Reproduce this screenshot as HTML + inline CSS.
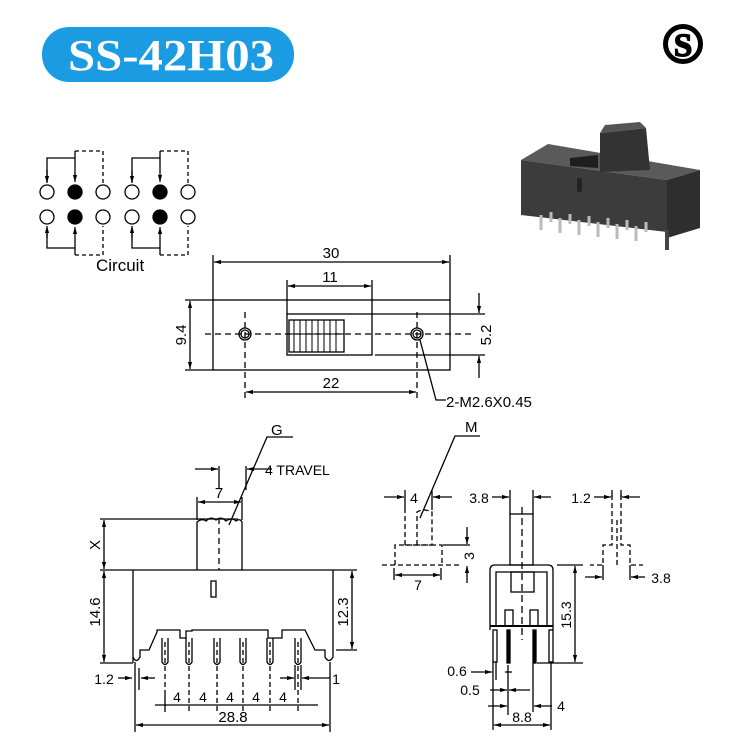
<!DOCTYPE html>
<html><head><meta charset="utf-8"><style>
html,body{margin:0;padding:0;background:#fff;}
svg{display:block;font-family:"Liberation Sans",sans-serif;}
</style></head><body>
<svg width="735" height="744" viewBox="0 0 735 744" xmlns="http://www.w3.org/2000/svg">
<defs>
<marker id="a" viewBox="0 0 10 10" refX="10" refY="5" markerWidth="7" markerHeight="7" orient="auto-start-reverse" markerUnits="userSpaceOnUse"><path d="M0,2 L10,5 L0,8 z" fill="#000"/></marker>
</defs>
<rect width="735" height="744" fill="#fff"/>
<!-- title pill -->
<rect x="42" y="27" width="252" height="55" rx="27" fill="#1a9be2"/>
<text x="68" y="70" textLength="206" lengthAdjust="spacingAndGlyphs" font-family="Liberation Serif,serif" font-weight="bold" font-size="44" fill="#fff">SS-42H03</text>
<!-- S logo -->
<circle cx="683" cy="44" r="17.5" fill="none" stroke="#000" stroke-width="5"/>
<text x="683" y="56" text-anchor="middle" font-family="Liberation Serif,serif" font-weight="bold" font-size="33" stroke="#000" stroke-width="1.5">S</text>

<!-- 3D product -->
<g>
<polygon points="521,160 548,144 700,170 667,180" fill="#5a5a5a"/>
<polygon points="521,160 667,180 667,232 521,215" fill="#3c3c3c"/>
<polygon points="667,180 700,170 700,228 667,238" fill="#2e2e2e"/>
<polygon points="570,158 598,155 598,168 570,166" fill="#1e1e1e"/>
<polygon points="600,133 646,128 650,170 600,172" fill="#333"/>
<polygon points="600,133 605,125 640,122 646,128" fill="#555"/>
<rect x="577" y="178" width="5" height="14" rx="2" fill="#222"/>
<g stroke="#bbb" stroke-width="3">
<line x1="541" y1="215" x2="541" y2="230"/><line x1="560" y1="218" x2="560" y2="233"/><line x1="579" y1="220" x2="579" y2="235"/><line x1="598" y1="222" x2="598" y2="237"/><line x1="617" y1="224" x2="617" y2="239"/><line x1="636" y1="226" x2="636" y2="241"/>
<line x1="551" y1="212" x2="551" y2="222"/><line x1="570" y1="214" x2="570" y2="224"/><line x1="589" y1="216" x2="589" y2="226"/><line x1="608" y1="218" x2="608" y2="228"/><line x1="627" y1="220" x2="627" y2="230"/><line x1="646" y1="222" x2="646" y2="232"/>
</g>
<rect x="665" y="230" width="4" height="20" fill="#444"/>
</g>

<g fill="none" stroke="#000" stroke-width="1.3">
<!-- circuit -->
<g>
<circle cx="47" cy="192" r="7"/><circle cx="75" cy="192" r="7" fill="#000"/><circle cx="103" cy="192" r="7"/>
<circle cx="132" cy="192" r="7"/><circle cx="160" cy="192" r="7" fill="#000"/><circle cx="188" cy="192" r="7"/>
<circle cx="47" cy="217" r="7"/><circle cx="75" cy="217" r="7" fill="#000"/><circle cx="103" cy="217" r="7"/>
<circle cx="132" cy="217" r="7"/><circle cx="160" cy="217" r="7" fill="#000"/><circle cx="188" cy="217" r="7"/>
<path d="M47,182 V158 H75"/><path d="M75,151 V182" marker-end="url(#a)"/><line x1="47" y1="170" x2="47" y2="183" marker-end="url(#a)"/>
<path d="M75,151 H103 V183" stroke-dasharray="4,3"/>
<path d="M132,182 V158 H160"/><path d="M160,151 V182" marker-end="url(#a)"/><line x1="132" y1="170" x2="132" y2="183" marker-end="url(#a)"/>
<path d="M160,151 H188 V183" stroke-dasharray="4,3"/>
<path d="M47,230 V248 H75"/><path d="M75,255 V227" marker-end="url(#a)"/><line x1="47" y1="238" x2="47" y2="226" marker-end="url(#a)"/>
<path d="M75,255 H103 V226" stroke-dasharray="4,3"/>
<path d="M132,230 V248 H160"/><path d="M160,255 V227" marker-end="url(#a)"/><line x1="132" y1="238" x2="132" y2="226" marker-end="url(#a)"/>
<path d="M160,255 H188 V226" stroke-dasharray="4,3"/>
</g>

<!-- top view -->
<rect x="213" y="300" width="237" height="70"/>
<rect x="287" y="314" width="85" height="41"/>
<rect x="289" y="320" width="55" height="32"/>
<g stroke-width="1"><line x1="294" y1="320" x2="294" y2="352"/><line x1="300" y1="320" x2="300" y2="352"/><line x1="306" y1="320" x2="306" y2="352"/><line x1="312" y1="320" x2="312" y2="352"/><line x1="318" y1="320" x2="318" y2="352"/><line x1="324" y1="320" x2="324" y2="352"/><line x1="330" y1="320" x2="330" y2="352"/><line x1="336" y1="320" x2="336" y2="352"/><line x1="289" y1="334" x2="344" y2="334"/></g>
<circle cx="245" cy="334" r="6"/><circle cx="245" cy="334" r="4"/>
<circle cx="417" cy="334" r="6"/><circle cx="417" cy="334" r="4"/>
<line x1="205" y1="334" x2="475" y2="334" stroke-dasharray="6,4"/>
<line x1="245" y1="312" x2="245" y2="398" stroke-dasharray="6,4"/>
<line x1="417" y1="312" x2="417" y2="398" stroke-dasharray="6,4"/>
<line x1="213" y1="255" x2="213" y2="300"/><line x1="450" y1="255" x2="450" y2="300"/>
<line x1="214" y1="262" x2="449" y2="262" marker-start="url(#a)" marker-end="url(#a)"/>
<line x1="287" y1="280" x2="287" y2="314"/><line x1="372" y1="280" x2="372" y2="314"/>
<line x1="288" y1="286" x2="371" y2="286" marker-start="url(#a)" marker-end="url(#a)"/>
<line x1="246" y1="392" x2="416" y2="392" marker-start="url(#a)" marker-end="url(#a)"/>
<line x1="185" y1="300" x2="213" y2="300"/><line x1="185" y1="370" x2="213" y2="370"/>
<line x1="190" y1="301" x2="190" y2="369" marker-start="url(#a)" marker-end="url(#a)"/>
<line x1="372" y1="314" x2="485" y2="314"/><line x1="375" y1="355" x2="485" y2="355"/>
<line x1="479" y1="293" x2="479" y2="313" marker-end="url(#a)"/>
<line x1="479" y1="378" x2="479" y2="356" marker-end="url(#a)"/>
<path d="M420,340 L436,400 H446"/>

<!-- side view -->
<line x1="100" y1="570" x2="357" y2="570"/>
<path d="M197,570 V522 Q202,518 206,521 Q211,516 216,520 Q221,516 226,521 Q232,517 236,521 Q240,518 242,522 V570"/>
<line x1="219" y1="518" x2="219" y2="570" stroke-dasharray="6,4"/>
<rect x="211" y="581" width="5" height="16"/>
<path d="M133,570 V657 Q136,664 140,657 V650 H149 L157,632 V630 H180 V638 H186 V631 H192 V630 H268 V638 H282 V630 H305 L315,650 H325 V657 Q329,664 333,657 V570"/>
<line x1="133" y1="657" x2="133" y2="663"/>
<g>
<path d="M162,638 V662 Q165,667 168,662 V638"/><line x1="165" y1="642" x2="165" y2="690" stroke-dasharray="5,3"/>
<path d="M186,638 V662 Q189,667 192,662 V638"/><line x1="189" y1="642" x2="189" y2="712" stroke-dasharray="5,3"/>
<path d="M214,638 V662 Q217,667 220,662 V638"/><line x1="217" y1="642" x2="217" y2="712" stroke-dasharray="5,3"/>
<path d="M240,638 V662 Q243,667 246,662 V638"/><line x1="243" y1="642" x2="243" y2="712" stroke-dasharray="5,3"/>
<path d="M267,638 V662 Q270,667 273,662 V638"/><line x1="270" y1="642" x2="270" y2="712" stroke-dasharray="5,3"/>
<path d="M295,638 V662 Q298,667 301,662 V638"/><line x1="298" y1="642" x2="298" y2="712" stroke-dasharray="5,3"/>
</g>
<line x1="165" y1="690" x2="165" y2="712"/>
<line x1="155" y1="705" x2="318" y2="705"/>
<line x1="135" y1="662" x2="135" y2="732"/><line x1="330" y1="662" x2="330" y2="732"/>
<line x1="136" y1="725" x2="329" y2="725" marker-start="url(#a)" marker-end="url(#a)"/>
<line x1="139" y1="668" x2="139" y2="690"/>
<line x1="118" y1="678" x2="132" y2="678" marker-end="url(#a)"/><line x1="155" y1="678" x2="141" y2="678" marker-end="url(#a)"/>
<line x1="295" y1="665" x2="295" y2="690"/><line x1="301" y1="665" x2="301" y2="690"/>
<line x1="280" y1="678" x2="294" y2="678" marker-end="url(#a)"/><line x1="330" y1="678" x2="302" y2="678" marker-end="url(#a)"/>
<line x1="100" y1="663" x2="133" y2="663"/><line x1="100" y1="519" x2="238" y2="519"/>
<line x1="104" y1="571" x2="104" y2="662" marker-start="url(#a)" marker-end="url(#a)"/>
<line x1="104" y1="520" x2="104" y2="569" marker-start="url(#a)" marker-end="url(#a)"/>
<line x1="336" y1="650" x2="357" y2="650"/>
<line x1="352" y1="571" x2="352" y2="649" marker-start="url(#a)" marker-end="url(#a)"/>
<line x1="197" y1="497" x2="197" y2="520"/><line x1="242" y1="497" x2="242" y2="520"/>
<line x1="198" y1="502" x2="241" y2="502" marker-start="url(#a)" marker-end="url(#a)"/>
<line x1="219" y1="466" x2="219" y2="488"/><line x1="246" y1="466" x2="246" y2="490"/>
<line x1="195" y1="469" x2="218" y2="469" marker-end="url(#a)"/><line x1="272" y1="469" x2="247" y2="469" marker-end="url(#a)"/>
<path d="M229,525 L267,437 H293"/>

<!-- right view -->
<rect x="510" y="514" width="23" height="51"/>
<path d="M490,630 V570 Q490,565 495,565 H548 Q553,565 553,570 V630"/>
<path d="M496,626 V572 H547 V626"/>
<line x1="490" y1="626" x2="553" y2="626" stroke-width="2"/>
<rect x="511" y="572" width="23" height="20"/>
<rect x="505" y="610" width="8" height="16"/><rect x="530" y="610" width="8" height="16"/>
<rect x="493" y="630" width="4" height="32"/><rect x="549" y="630" width="4" height="32"/>
<rect x="507" y="630" width="3" height="33" fill="#000"/><rect x="533" y="630" width="3" height="33" fill="#000"/>
<line x1="522" y1="507" x2="522" y2="640" stroke-dasharray="7,4"/>
<line x1="510" y1="490" x2="510" y2="514"/><line x1="533" y1="490" x2="533" y2="514"/>
<line x1="492" y1="497" x2="509" y2="497" marker-end="url(#a)"/><line x1="551" y1="497" x2="534" y2="497" marker-end="url(#a)"/>
<line x1="557" y1="565" x2="583" y2="565"/><line x1="537" y1="663" x2="583" y2="663"/>
<line x1="575" y1="566" x2="575" y2="662" marker-start="url(#a)" marker-end="url(#a)"/>
<line x1="493" y1="662" x2="493" y2="730"/><line x1="551" y1="662" x2="551" y2="730"/>
<line x1="494" y1="725" x2="550" y2="725" marker-start="url(#a)" marker-end="url(#a)"/>
<line x1="496" y1="662" x2="496" y2="680"/>
<line x1="471" y1="672" x2="492" y2="672" marker-end="url(#a)"/>
<line x1="505" y1="672" x2="512" y2="672"/>
<line x1="508" y1="665" x2="508" y2="715"/>
<line x1="490" y1="690" x2="507" y2="690" marker-end="url(#a)"/><line x1="530" y1="690" x2="509" y2="690" marker-end="url(#a)"/>
<line x1="533" y1="663" x2="533" y2="712"/>
<line x1="488" y1="706" x2="507" y2="706" marker-end="url(#a)"/><line x1="552" y1="706" x2="534" y2="706" marker-end="url(#a)"/>
<!-- left dashed -->
<g stroke-dasharray="5,3">
<path d="M405,545 V510 M417,545 V512 Q423,508 432,512 V545 H405"/>
<path d="M395,565 V545 H442 V565"/>
<line x1="382" y1="565" x2="460" y2="565"/>
</g>
<line x1="405" y1="490" x2="405" y2="510"/><line x1="432" y1="490" x2="432" y2="510"/>
<line x1="384" y1="497" x2="404" y2="497" marker-end="url(#a)"/><line x1="452" y1="497" x2="433" y2="497" marker-end="url(#a)"/>
<line x1="394" y1="568" x2="394" y2="580"/><line x1="441" y1="568" x2="441" y2="580"/>
<line x1="395" y1="575" x2="440" y2="575" marker-start="url(#a)" marker-end="url(#a)"/>
<line x1="443" y1="545" x2="470" y2="545"/>
<line x1="467" y1="527" x2="467" y2="544" marker-end="url(#a)"/><line x1="467" y1="583" x2="467" y2="566" marker-end="url(#a)"/>
<path d="M420,518 L455,436 H480"/>
<!-- right dashed -->
<g stroke-dasharray="5,3">
<path d="M612,495 V545 H603 V565 H590"/>
<path d="M621,495 V545 H630 V565 H643"/>
<line x1="617" y1="520" x2="617" y2="565"/>
</g>
<line x1="612" y1="490" x2="612" y2="497"/><line x1="621" y1="490" x2="621" y2="497"/>
<line x1="594" y1="497" x2="611" y2="497" marker-end="url(#a)"/><line x1="640" y1="497" x2="622" y2="497" marker-end="url(#a)"/>
<line x1="603" y1="565" x2="603" y2="580"/><line x1="630" y1="565" x2="630" y2="580"/>
<line x1="585" y1="577" x2="602" y2="577" marker-end="url(#a)"/><line x1="645" y1="577" x2="631" y2="577" marker-end="url(#a)"/>
</g>

<!-- texts -->
<g font-size="15" fill="#000">
<text x="96" y="271" font-size="17">Circuit</text>
<text x="331" y="258" text-anchor="middle">30</text>
<text x="330" y="282" text-anchor="middle">11</text>
<text x="331" y="388" text-anchor="middle">22</text>
<text x="0" y="0" transform="translate(186,335) rotate(-90)" text-anchor="middle">9.4</text>
<text x="0" y="0" transform="translate(491,335) rotate(-90)" text-anchor="middle">5.2</text>
<text x="446" y="407">2-M2.6X0.45</text>
<text x="271" y="435">G</text>
<text x="265" y="475" font-size="14">4 TRAVEL</text>
<text x="219" y="498" text-anchor="middle">7</text>
<text x="0" y="0" transform="translate(100,545) rotate(-90)" text-anchor="middle">X</text>
<text x="0" y="0" transform="translate(100,612) rotate(-90)" text-anchor="middle">14.6</text>
<text x="0" y="0" transform="translate(348,612) rotate(-90)" text-anchor="middle">12.3</text>
<text x="104" y="684" text-anchor="middle" font-size="14">1.2</text>
<text x="336" y="684" text-anchor="middle" font-size="14">1</text>
<text x="177" y="702" text-anchor="middle" font-size="14">4</text>
<text x="203" y="702" text-anchor="middle" font-size="14">4</text>
<text x="230" y="702" text-anchor="middle" font-size="14">4</text>
<text x="256" y="702" text-anchor="middle" font-size="14">4</text>
<text x="283" y="702" text-anchor="middle" font-size="14">4</text>
<text x="233" y="722" text-anchor="middle">28.8</text>
<text x="465" y="432">M</text>
<text x="414" y="503" text-anchor="middle" font-size="14">4</text>
<text x="418" y="590" text-anchor="middle" font-size="14">7</text>
<text x="0" y="0" transform="translate(474,556) rotate(-90)" text-anchor="middle" font-size="14">3</text>
<text x="479" y="503" text-anchor="middle" font-size="14">3.8</text>
<text x="581" y="503" text-anchor="middle" font-size="14">1.2</text>
<text x="661" y="583" text-anchor="middle" font-size="14">3.8</text>
<text x="0" y="0" transform="translate(571,615) rotate(-90)" text-anchor="middle" font-size="14">15.3</text>
<text x="457" y="676" text-anchor="middle" font-size="14">0.6</text>
<text x="470" y="695" text-anchor="middle" font-size="14">0.5</text>
<text x="561" y="711" text-anchor="middle" font-size="14">4</text>
<text x="522" y="722" text-anchor="middle" font-size="14">8.8</text>
</g>
</svg>
</body></html>
